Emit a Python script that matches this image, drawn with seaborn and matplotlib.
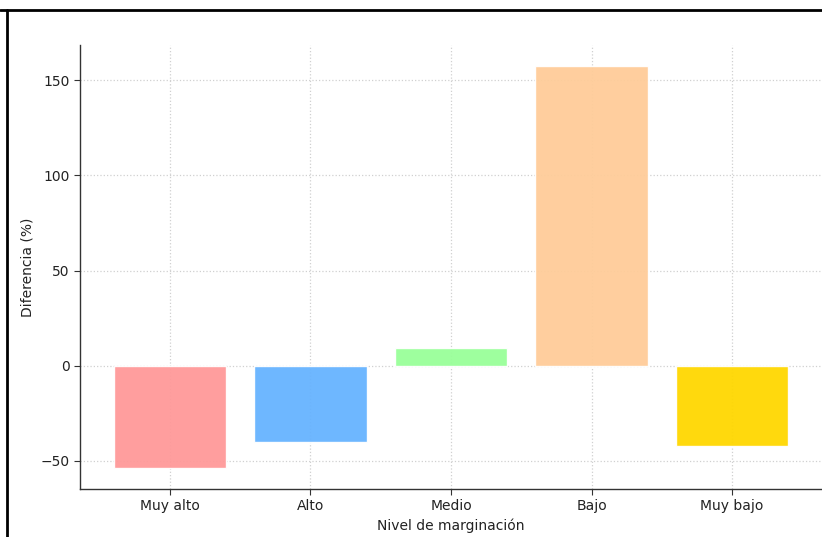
import pandas as pd
import matplotlib.pyplot as plt
import seaborn as sns
from matplotlib.lines import Line2D

# data
niveles = ['Muy alto', 'Alto', 'Medio', 'Bajo', 'Muy bajo']
diferencia = [-53.5, -40.0, 9.5, 157.5, -42.0]
colores = ['#ff9999', '#66b3ff', '#99ff99', '#ffcc99', '#ffd700']

df = pd.DataFrame({'Nivel': niveles, 'Diferencia': diferencia})

sns.set_style('white')
plt.rcParams['font.family'] = ['DejaVu Sans']

fig = plt.figure(figsize=(8.22, 5.37), dpi=100)
ax = fig.add_axes([80 / 822, 48 / 537, 742 / 822, 444 / 537])

sns.barplot(x='Nivel', y='Diferencia', hue='Nivel', data=df, palette=colores,
            saturation=1, width=0.8, legend=False, ax=ax, alpha=0.95)

ax.set_xlim(-0.64, 4.64)
ax.set_ylim(-64.7, 168.4)
ax.set_yticks([-50, 0, 50, 100, 150])
ax.grid(True, color='#d0d0d0', linestyle=':', linewidth=0.9)
ax.set_axisbelow(True)

for s in ['top', 'right']:
    ax.spines[s].set_visible(False)
for s in ['left', 'bottom']:
    ax.spines[s].set_color('#333333')
    ax.spines[s].set_linewidth(1.0)

ax.tick_params(axis='both', which='both', length=4, color='#333333',
               labelsize=10, labelcolor='#222222', left=True, bottom=True)
ax.set_xlabel('Nivel de marginación', fontsize=10, color='#222222')
ax.set_ylabel('Diferencia (%)', fontsize=10, color='#222222')

# screenshot frame (top and left edges)
fig.add_artist(Line2D([0, 1], [1 - 10 / 537, 1 - 10 / 537], transform=fig.transFigure,
                      color='black', linewidth=2))
fig.add_artist(Line2D([7 / 822, 7 / 822], [0, 1 - 10 / 537], transform=fig.transFigure,
                      color='black', linewidth=2))

fig.savefig('out.png', dpi=100)
